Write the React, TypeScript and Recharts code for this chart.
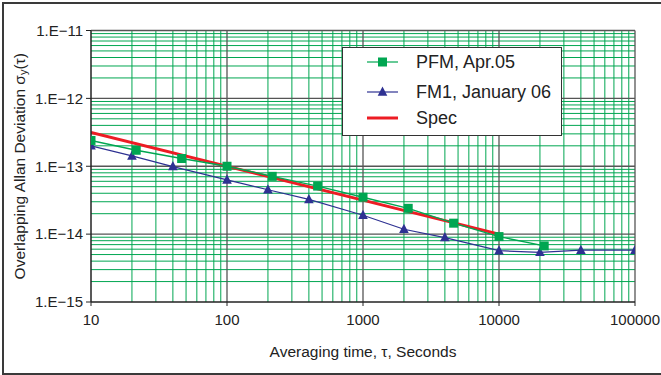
import { LineChart, Line, XAxis, YAxis, ReferenceLine, Legend, Label } from "recharts";

// averaging time (s) and overlapping Allan deviation
const pfmTau = [10, 21.5, 46.4, 100, 215, 464, 1000, 2150, 4640, 10000, 21500];
const pfmDev = [2.4e-13, 1.72e-13, 1.3e-13, 1.0e-13, 7.1e-14, 5.1e-14, 3.5e-14, 2.4e-14, 1.45e-14, 9.2e-15, 6.7e-15];

const fm1Tau = [10, 20, 40, 100, 200, 400, 1000, 2000, 4000, 10000, 20000, 40000, 100000];
const fm1Dev = [2.0e-13, 1.42e-13, 9.9e-14, 6.3e-14, 4.5e-14, 3.25e-14, 1.9e-14, 1.18e-14, 8.9e-15, 5.7e-15, 5.4e-15, 5.8e-15, 5.8e-15];

const specTau = [10, 10000];
const specDev = [3.16e-13, 1.0e-14];

const xTicks = [10, 100, 1000, 10000, 100000];
const yTicks = [1e-15, 1e-14, 1e-13, 1e-12, 1e-11];
const gridSteps = [2, 3, 4, 5, 6, 7, 8, 9];

const GREEN = "#00a651";
const BLUE = "#2e3192";
const RED = "#ed1c24";
const FONT = "'Liberation Sans', Arial, sans-serif";

const pfm = pfmTau.map((tau, i) => ({ tau, dev: pfmDev[i] }));
const fm1 = fm1Tau.map((tau, i) => ({ tau, dev: fm1Dev[i] }));
const spec = specTau.map((tau, i) => ({ tau, dev: specDev[i] }));

const xMinor = xTicks.slice(0, -1).flatMap((d) => gridSteps.map((m) => d * m));
const yMinor = yTicks.slice(0, -1).flatMap((d) => gridSteps.map((m) => d * m));

const expLabel = (v: number) => `1.E\u2212${Math.round(-Math.log10(v))}`;

const SquareDot = (props: any) => {
  const { cx, cy, index } = props;
  if (cx == null || cy == null) return <g key={`s-${index}`} />;
  return <rect key={`s-${index}`} x={cx - 4.5} y={cy - 4.5} width={9} height={9} fill={GREEN} />;
};

const TriangleDot = (props: any) => {
  const { cx, cy, index } = props;
  if (cx == null || cy == null) return <g key={`t-${index}`} />;
  return (
    <path
      key={`t-${index}`}
      d={`M${cx},${cy - 5.5}L${cx + 4.8},${cy + 3.8}L${cx - 4.8},${cy + 3.8}Z`}
      fill={BLUE}
    />
  );
};

const legendRows = [
  { name: "PFM, Apr.05", color: GREEN, marker: "square" },
  { name: "FM1, January 06", color: BLUE, marker: "triangle" },
  { name: "Spec", color: RED, marker: "none" },
];
const legendRowTops = [2, 32, 58];

const renderLegend = () => (
  <div
    style={{
      position: "relative",
      width: 220,
      height: 89,
      boxSizing: "border-box",
      border: "1px solid #333",
      background: "#fff",
      fontFamily: FONT,
      fontSize: 18,
      color: "#222",
    }}
  >
    {legendRows.map((row, i) => (
      <div
        key={row.name}
        style={{ position: "absolute", left: 0, top: legendRowTops[i], height: 24, width: 218 }}
      >
        <svg width={40} height={24} style={{ position: "absolute", left: 22, top: 0 }}>
          <line x1={2} x2={33} y1={12} y2={12} stroke={row.color} strokeWidth={row.marker === "none" ? 3 : 1.2} />
          {row.marker === "square" && <rect x={13} y={7.5} width={9} height={9} fill={row.color} />}
          {row.marker === "triangle" && <path d="M17.5,6.5L22.3,15.8L12.7,15.8Z" fill={row.color} />}
        </svg>
        <span style={{ position: "absolute", left: 73, top: 1, lineHeight: "22px", whiteSpace: "nowrap" }}>
          {row.name}
        </span>
      </div>
    ))}
  </div>
);

const YTitle = (props: any) => {
  const vb = props.viewBox || { x: 0, y: 0, width: 0, height: 0 };
  const x = vb.x + 19;
  const y = vb.y + vb.height / 2;
  return (
    <text
      x={x}
      y={y}
      transform={`rotate(-90, ${x}, ${y})`}
      textAnchor="middle"
      dominantBaseline="central"
      fontFamily={FONT}
      fontSize={15.5}
      fill="#222"
    >
      Overlapping Allan Deviation σ
      <tspan fontSize={11} dy={4}>y</tspan>
      <tspan dy={-4}>(τ)</tspan>
    </text>
  );
};

const XTitle = (props: any) => {
  const vb = props.viewBox || { x: 0, y: 0, width: 0, height: 0 };
  return (
    <text
      x={vb.x + vb.width / 2}
      y={vb.y + 55}
      textAnchor="middle"
      fontFamily={FONT}
      fontSize={15.5}
      fill="#222"
    >
      Averaging time, τ, Seconds
    </text>
  );
};

export default function App() {
  return (
    <div
      style={{
        position: "absolute",
        left: 0,
        top: 0,
        width: 661,
        height: 375,
        overflow: "hidden",
        background: "#fff",
      }}
    >
      <div
        style={{
          position: "absolute",
          left: 2,
          top: 2,
          width: 700,
          height: 373,
          boxSizing: "border-box",
          border: "2px solid #3a3a3a",
        }}
      />
      <LineChart
        width={661}
        height={375}
        margin={{ top: 30.5, right: 26, bottom: 33, left: 0 }}
        style={{ position: "absolute", left: 0, top: 0 }}
      >
        <XAxis
          type="number"
          dataKey="tau"
          scale="log"
          domain={[10, 100000]}
          ticks={xTicks}
          allowDataOverflow
          height={40}
          tickSize={4}
          tickMargin={8}
          stroke="#222"
          tickLine={{ stroke: "#222" }}
          axisLine={{ stroke: "#222", strokeWidth: 1.5 }}
          tick={{ fill: "#222", fontSize: 15, fontFamily: FONT }}
        >
          <Label content={XTitle} />
        </XAxis>
        <YAxis
          type="number"
          dataKey="dev"
          scale="log"
          domain={[1e-15, 1e-11]}
          ticks={yTicks}
          allowDataOverflow
          width={91}
          tickSize={5}
          tickMargin={3}
          tickFormatter={expLabel}
          stroke="#222"
          tickLine={{ stroke: "#222" }}
          axisLine={{ stroke: "#222", strokeWidth: 1.5 }}
          tick={{ fill: "#222", fontSize: 15, fontFamily: FONT }}
        >
          <Label content={YTitle} />
        </YAxis>

        {xMinor.map((v) => (
          <ReferenceLine key={`xm-${v}`} x={v} stroke={GREEN} strokeWidth={1} />
        ))}
        {yMinor.map((v) => (
          <ReferenceLine key={`ym-${v}`} y={v} stroke={GREEN} strokeWidth={1} />
        ))}
        {xTicks.slice(1).map((v) => (
          <ReferenceLine key={`xM-${v}`} x={v} stroke="#555" strokeWidth={1.3} />
        ))}
        {yTicks.slice(1).map((v) => (
          <ReferenceLine key={`yM-${v}`} y={v} stroke="#555" strokeWidth={1.3} />
        ))}

        <Line
          data={fm1}
          dataKey="dev"
          name="FM1, January 06"
          type="linear"
          stroke={BLUE}
          strokeWidth={1.2}
          dot={TriangleDot}
          activeDot={false}
          isAnimationActive={false}
        />
        <Line
          data={spec}
          dataKey="dev"
          name="Spec"
          type="linear"
          stroke={RED}
          strokeWidth={3}
          dot={false}
          activeDot={false}
          isAnimationActive={false}
        />
        <Line
          data={pfm}
          dataKey="dev"
          name="PFM, Apr.05"
          type="linear"
          stroke={GREEN}
          strokeWidth={1.4}
          dot={SquareDot}
          activeDot={false}
          isAnimationActive={false}
        />

        <Legend
          layout="horizontal"
          verticalAlign="middle"
          align="center"
          content={renderLegend}
          wrapperStyle={{ position: "absolute", left: 342, top: 47, width: 220, height: 89 }}
        />
      </LineChart>
    </div>
  );
}
